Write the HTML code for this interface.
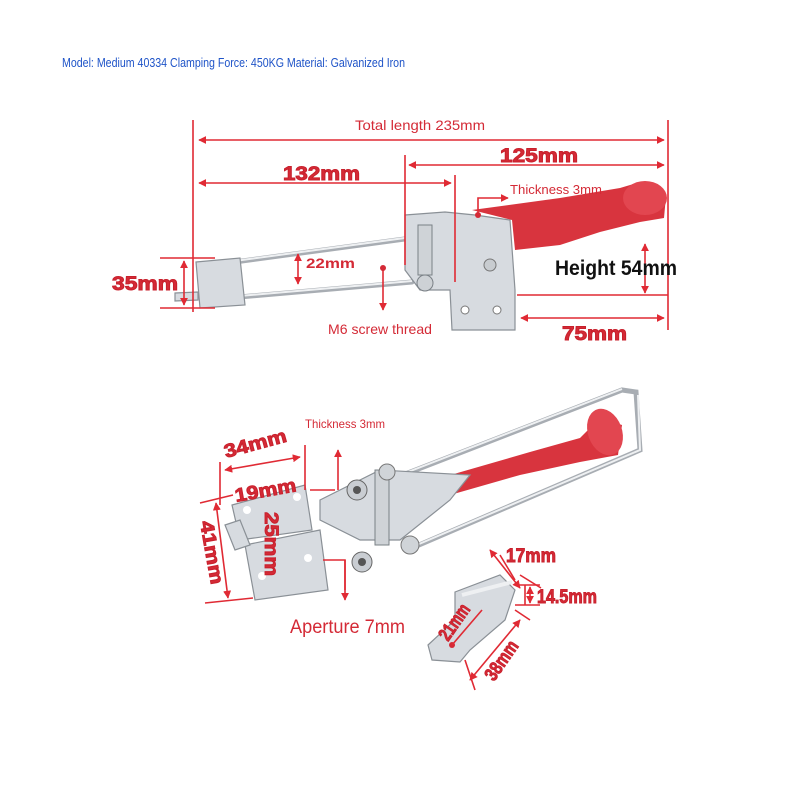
<!DOCTYPE html>
<html><head><meta charset="utf-8"><style>
body{margin:0;background:#fff}
svg{display:block}
text{font-family:"Liberation Sans",sans-serif}
.r{fill:#d42a36}
.big{font-weight:bold;font-size:19px;fill:#d42a36;stroke:#c8202c;stroke-width:0.9}
.ln{stroke:#e02a34;stroke-width:1.6;fill:none}
.st{fill:#d7dbe0;stroke:#8a9096;stroke-width:1.2}
.rod{stroke:#a8adb3;stroke-width:5;fill:none;stroke-linecap:round}
.rodi{stroke:#eef0f2;stroke-width:2;fill:none}
</style></head><body>
<svg width="800" height="800" viewBox="0 0 800 800">
<defs><marker id="a" viewBox="0 0 10 10" refX="9" refY="5" markerWidth="5" markerHeight="5" orient="auto-start-reverse"><path d="M0,0L10,5L0,10z" fill="#e02a34"/></marker></defs>
<text x="62" y="67" font-size="12.5" fill="#1f54c8" textLength="343" lengthAdjust="spacingAndGlyphs">Model: Medium 40334 Clamping Force: 450KG Material: Galvanized Iron</text>

<!-- TOP CLAMP -->
<path class="rod" d="M205,266 L412,238"/><path class="rodi" d="M205,265 L412,237"/>
<path class="rod" d="M205,300 L412,282"/><path class="rodi" d="M205,299 L412,281"/>
<path class="st" d="M196,262 L240,258 L245,305 L200,308 Z"/>
<path class="st" d="M175,293 L198,292 L198,300 L175,301Z"/>
<path class="st" d="M405,215 L445,212 L475,215 L510,220 L515,290 L515,330 L452,330 L450,290 L420,290 L405,270 Z"/>
<circle cx="465" cy="310" r="4" fill="#fff" stroke="#777"/><circle cx="497" cy="310" r="4" fill="#fff" stroke="#777"/>
<circle cx="490" cy="265" r="6" fill="#c8ccd0" stroke="#777"/>
<rect x="418" y="225" width="14" height="50" fill="#cfd3d7" stroke="#7a8086"/>
<circle cx="425" cy="283" r="8" fill="#cdd1d5" stroke="#7a8086"/>
<path d="M472,210 L560,198 L620,188 L640,182 L666,196 L664,218 L640,222 L600,232 L560,245 L515,250 L512,220 Z" fill="#d8343e"/>
<ellipse cx="645" cy="198" rx="22" ry="17" fill="#e24650"/>

<g class="ln">
<path d="M193,120V312 M668,120V330 M405,155V265 M455,175V282 M160,258H215 M160,308H215 M517,295H668"/>
<path d="M199,140H664" marker-start="url(#a)" marker-end="url(#a)"/>
<path d="M409,165H664" marker-start="url(#a)" marker-end="url(#a)"/>
<path d="M199,183H451" marker-start="url(#a)" marker-end="url(#a)"/>
<path d="M521,318H664" marker-start="url(#a)" marker-end="url(#a)"/>
<path d="M645,244V293" marker-start="url(#a)" marker-end="url(#a)"/>
<path d="M184,261V305" marker-start="url(#a)" marker-end="url(#a)"/>
<path d="M298,254V284" marker-start="url(#a)" marker-end="url(#a)"/>
<path d="M383,268V310" marker-end="url(#a)"/>
<path d="M478,215V198H508" marker-end="url(#a)"/>
</g>
<circle cx="478" cy="215" r="3" class="r"/><circle cx="383" cy="268" r="3" class="r"/>
<rect x="352" y="116" width="138" height="18" fill="#fff"/>
<text x="355" y="130" font-size="14" class="r" textLength="130" lengthAdjust="spacingAndGlyphs">Total length 235mm</text>
<text x="500" y="162" class="big" textLength="78" lengthAdjust="spacingAndGlyphs">125mm</text>
<text x="283" y="180" class="big" textLength="77" lengthAdjust="spacingAndGlyphs">132mm</text>
<text x="510" y="194" font-size="13" class="r" textLength="92" lengthAdjust="spacingAndGlyphs">Thickness 3mm</text>
<text x="555" y="275" font-size="21" font-weight="bold" fill="#111" textLength="122" lengthAdjust="spacingAndGlyphs">Height 54mm</text>
<text x="112" y="290" class="big" textLength="66" lengthAdjust="spacingAndGlyphs">35mm</text>
<text x="306" y="268" font-size="14" font-weight="bold" class="r" textLength="49" lengthAdjust="spacingAndGlyphs">22mm</text>
<text x="328" y="334" font-size="14" class="r" textLength="104" lengthAdjust="spacingAndGlyphs">M6 screw thread</text>
<text x="562" y="340" class="big" textLength="65" lengthAdjust="spacingAndGlyphs">75mm</text>

<!-- BOTTOM CLAMP -->
<path class="rod" d="M395,478 L622,390 L636,392 L640,450 L412,548"/>
<path class="rodi" d="M395,477 L622,389 M638,395 L640,450 L412,547"/>
<path d="M440,478 L530,452 L580,438 L600,418 L622,425 L618,455 L580,462 L520,475 L450,495 Z" fill="#d8343e"/>
<ellipse cx="605" cy="432" rx="17" ry="24" fill="#e24650" transform="rotate(-20 605 432)"/>
<path class="st" d="M320,500 L380,470 L470,475 L450,500 L400,540 L360,540 L320,520 Z"/>
<path class="st" d="M232,505 L305,485 L312,530 L240,540 Z"/>
<path class="st" d="M245,545 L320,530 L328,590 L255,600 Z"/>
<path class="st" d="M225,525 L240,520 L250,545 L235,550Z"/>
<circle cx="357" cy="490" r="10" fill="#c9cdd2" stroke="#666"/><circle cx="357" cy="490" r="4" fill="#555"/>
<circle cx="362" cy="562" r="10" fill="#c9cdd2" stroke="#666"/><circle cx="362" cy="562" r="4" fill="#555"/>
<rect x="375" y="470" width="14" height="75" fill="#cfd3d7" stroke="#7a8086"/>
<circle cx="387" cy="472" r="8" fill="#d0d4d8" stroke="#777"/>
<circle cx="410" cy="545" r="9" fill="#d0d4d8" stroke="#777"/>
<circle cx="247" cy="510" r="4" fill="#fff"/><circle cx="297" cy="497" r="4" fill="#fff"/>
<circle cx="262" cy="576" r="4" fill="#fff"/><circle cx="308" cy="558" r="4" fill="#fff"/>
<!-- latch -->
<path class="st" d="M455,592 L500,575 L515,590 L505,620 L470,650 L460,662 L432,660 L428,645 L455,620 Z"/>
<path d="M462,595 L512,582" stroke="#eef0f2" stroke-width="4"/>
<circle cx="452" cy="645" r="3" class="r"/>

<g class="ln">
<path d="M220,462V505 M305,445V490 M200,503L233,495 M205,603L253,598 M310,490H335 M323,560H345V590"/>
<path d="M225,470L300,457" marker-start="url(#a)" marker-end="url(#a)"/>
<path d="M216,503L228,598" marker-start="url(#a)" marker-end="url(#a)"/>
<path d="M338,490V450" marker-end="url(#a)"/>
<path d="M345,560V600" marker-end="url(#a)"/>
<path d="M500,555L515,580 M520,575L541,588" />
<path d="M490,550L520,588" marker-start="url(#a)" marker-end="url(#a)"/>
<path d="M525,585V605 M515,585H540 M515,605H540"/>
<path d="M530,587V603" marker-start="url(#a)" marker-end="url(#a)"/>
<path d="M452,645L482,610"/>
<path d="M470,680L520,620" marker-start="url(#a)" marker-end="url(#a)"/>
<path d="M465,660L475,690 M515,610L530,620"/>
</g>
<text x="305" y="428" font-size="12" class="r" textLength="80" lengthAdjust="spacingAndGlyphs">Thickness 3mm</text>
<text x="226" y="458" class="big" transform="rotate(-15 226 458)" textLength="64" lengthAdjust="spacingAndGlyphs">34mm</text>
<text x="236" y="502" class="big" transform="rotate(-10 236 502)" textLength="62" lengthAdjust="spacingAndGlyphs">19mm</text>
<text x="265" y="512" class="big" transform="rotate(90 265 512)" textLength="64" lengthAdjust="spacingAndGlyphs">25mm</text>
<text x="200" y="522" class="big" transform="rotate(80 200 522)" textLength="64" lengthAdjust="spacingAndGlyphs">41mm</text>
<text x="290" y="633" font-size="19" class="r" textLength="115" lengthAdjust="spacingAndGlyphs">Aperture 7mm</text>
<text x="506" y="562" class="big" font-size="15" textLength="50" lengthAdjust="spacingAndGlyphs">17mm</text>
<text x="537" y="603" class="big" font-size="15" textLength="60" lengthAdjust="spacingAndGlyphs">14.5mm</text>
<text x="448" y="642" class="big" font-size="14" transform="rotate(-55 448 642)" textLength="40" lengthAdjust="spacingAndGlyphs">21mm</text>
<text x="494" y="682" class="big" font-size="14" transform="rotate(-55 494 682)" textLength="44" lengthAdjust="spacingAndGlyphs">38mm</text>
</svg>
</body></html>
